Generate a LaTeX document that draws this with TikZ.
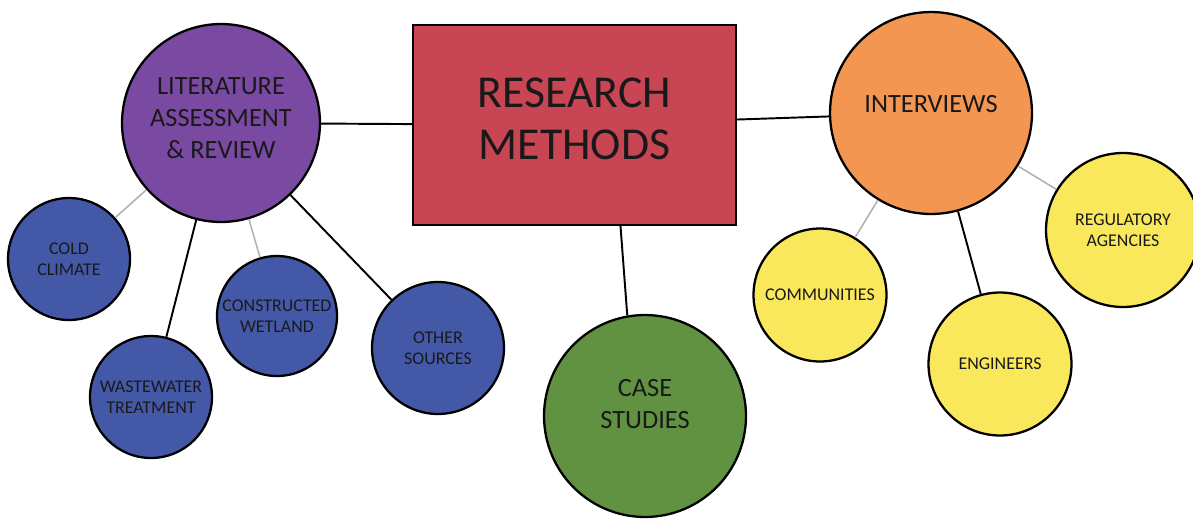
\documentclass[tikz,border=0pt]{standalone}
\usepackage{fontspec}
\setmainfont{Carlito}
\usetikzlibrary{calc}

\definecolor{litpurple}{RGB}{122,74,162}
\definecolor{resred}{RGB}{200,70,84}
\definecolor{intorange}{RGB}{242,150,82}
\definecolor{casegreen}{RGB}{96,146,66}
\definecolor{subblue}{RGB}{68,88,168}
\definecolor{subyellow}{RGB}{249,232,92}

\begin{document}
\begin{tikzpicture}[x=0.02cm,y=-0.02cm,
  bubble/.style={draw=black,line width=1.3pt,circle,align=center,inner sep=0pt,text=black!90},
  bigtext/.style={font=\fontsize{15}{18}\selectfont},
  smalltext/.style={font=\fontsize{10.2}{12.2}\selectfont},
  strong/.style={draw=black,line width=1.1pt},
  faint/.style={draw=black!30,line width=0.9pt}]

\useasboundingbox (0,0) rectangle (1193,518);

\node (rm) at (574.5,125) [draw=black,line width=1.3pt,fill=resred,rectangle,minimum width=6.46cm,minimum height=4cm,align=center,text=black!90,font=\fontsize{26}{29.5}\selectfont] {RESEARCH\\METHODS\\[-0.8cm]};

\node (lit) at (221,123) [bubble,bigtext,fill=litpurple,minimum size=3.96cm] {LITERATURE\\ASSESSMENT\\\& REVIEW\\[-0.43cm]};
\node (int) at (931,113) [bubble,bigtext,fill=intorange,minimum size=4.04cm] {INTERVIEWS\\[-0.27cm]};
\node (cs) at (645,416) [bubble,bigtext,fill=casegreen,minimum size=4.04cm] {CASE\\STUDIES\\[-0.15cm]};

\node (cold) at (69,259) [bubble,smalltext,fill=subblue,minimum size=2.44cm] {COLD\\CLIMATE};
\node (ww) at (151,397) [bubble,smalltext,fill=subblue,minimum size=2.44cm] {WASTEWATER\\TREATMENT};
\node (cw) at (277,316) [bubble,smalltext,fill=subblue,minimum size=2.4cm] {CONSTRUCTED\\WETLAND};
\node (os) at (438,348) [bubble,smalltext,fill=subblue,minimum size=2.64cm] {OTHER\\SOURCES};

\node (com) at (820,295) [bubble,smalltext,fill=subyellow,minimum size=2.66cm] {COMMUNITIES};
\node (eng) at (1000,364) [bubble,smalltext,fill=subyellow,minimum size=2.86cm] {ENGINEERS};
\node (reg) at (1123,230) [bubble,smalltext,fill=subyellow,minimum size=3.08cm] {REGULATORY\\AGENCIES};

\draw [strong] (lit) -- (rm) (rm) -- (int);
\draw [strong] ($(rm.south)+(46,0)$) -- (cs.100);

\draw [faint] (lit) -- (cold) (lit) -- (cw);
\draw [strong] (lit) -- (ww) (lit) -- (os);

\draw [faint] (int) -- (com) (int) -- (reg);
\draw [strong] (int) -- (eng);

\end{tikzpicture}
\end{document}
